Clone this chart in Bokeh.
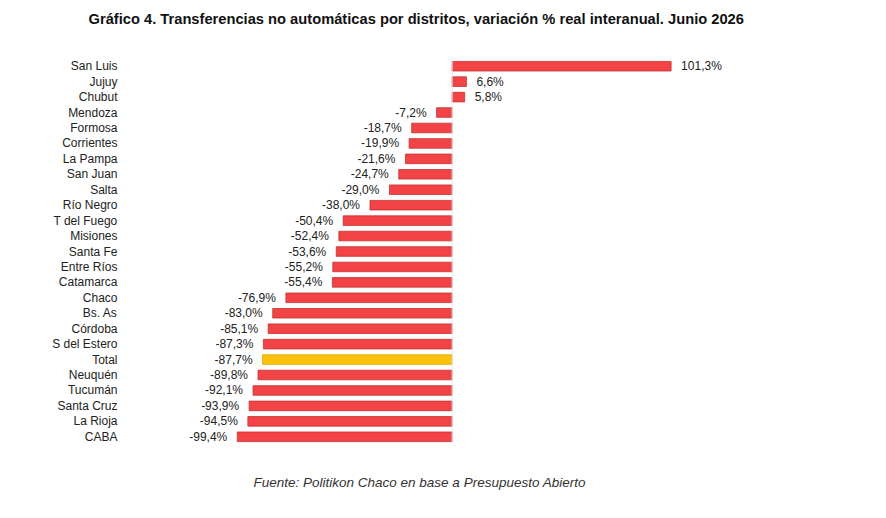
from bokeh.plotting import figure
from bokeh.models import ColumnDataSource, Span, Title
from bokeh.embed import file_html
from bokeh.resources import INLINE
from bokeh.core.properties import value

districts = ["San Luis", "Jujuy", "Chubut", "Mendoza", "Formosa", "Corrientes", "La Pampa",
             "San Juan", "Salta", "Río Negro", "T del Fuego", "Misiones", "Santa Fe",
             "Entre Ríos", "Catamarca", "Chaco", "Bs. As", "Córdoba", "S del Estero",
             "Total", "Neuquén", "Tucumán", "Santa Cruz", "La Rioja", "CABA"]
values = [101.3, 6.6, 5.8, -7.2, -18.7, -19.9, -21.6, -24.7, -29.0, -38.0, -50.4, -52.4,
          -53.6, -55.2, -55.4, -76.9, -83.0, -85.1, -87.3, -87.7, -89.8, -92.1, -93.9,
          -94.5, -99.4]
title_text = "Gráfico 4. Transferencias no automáticas por distritos, variación % real interanual. Junio 2026"
source_text = "Fuente: Politikon Chaco en base a Presupuesto Abierto"

RED = "#f24446"
RED_LINE = "#c83030"
GOLD = "#fcc20a"
GOLD_LINE = "#e0a800"
FONT = "Liberation Sans"

labels = [f"{v:.1f}".replace(".", ",") + "%" for v in values]
fills = [GOLD if d == "Total" else RED for d in districts]
lines = [GOLD_LINE if d == "Total" else RED_LINE for d in districts]

src = ColumnDataSource(dict(d=districts, v=values, lab=labels, fill=fills, line=lines))
pos = ColumnDataSource(dict(d=[d for d, v in zip(districts, values) if v >= 0],
                            v=[v for v in values if v >= 0],
                            lab=[l for l, v in zip(labels, values) if v >= 0]))
neg = ColumnDataSource(dict(d=[d for d, v in zip(districts, values) if v < 0],
                            v=[v for v in values if v < 0],
                            lab=[l for l, v in zip(labels, values) if v < 0]))

n = len(districts)
row = 15.45
frame_top = 65.5 - row / 2
frame_bottom = frame_top + n * row
p = figure(width=886, height=518, y_range=list(reversed(districts)),
           x_range=(-151.1, 151.9), output_backend="svg", toolbar_location=None,
           min_border_left=125, min_border_right=886 - 780,
           min_border_top=int(round(frame_top)), min_border_bottom=int(round(518 - frame_bottom)))
p.outline_line_color = None
p.grid.visible = False
p.xaxis.visible = False
p.yaxis.axis_line_color = None
p.yaxis.major_tick_line_color = None
p.yaxis.minor_tick_line_color = None
p.yaxis.major_tick_out = 0
p.yaxis.major_label_standoff = 8
p.yaxis.major_label_text_font = FONT
p.yaxis.major_label_text_font_size = "12px"
p.yaxis.major_label_text_color = "#222222"

p.add_layout(Span(location=0, dimension="height", line_color="#e6e6e6", line_width=1))

p.hbar(y="d", left=0, right="v", height=0.62, source=src, fill_color="fill",
       line_color="line", line_width=0.8)

p.text(x="v", y="d", text="lab", source=pos, x_offset=10, text_align="left",
       text_baseline="middle", text_font=value(FONT), text_font_size="12px",
       text_color="#222222")
p.text(x="v", y="d", text="lab", source=neg, x_offset=-10, text_align="right",
       text_baseline="middle", text_font=value(FONT), text_font_size="12px",
       text_color="#222222")

# empty spacer between the bars and the title (closest to the frame)
p.add_layout(Title(text=" ", text_font=FONT, text_font_size="10px", standoff=19), "above")
p.add_layout(Title(text=title_text, text_font=FONT, text_font_style="bold",
                   text_font_size="14.7px", align="left", offset=88 - 125, standoff=0,
                   text_color="#111111"), "above")
p.add_layout(Title(text=source_text, text_font=FONT, text_font_style="italic",
                   text_font_size="13.5px", align="left", offset=253 - 125, standoff=56,
                   text_color="#333333"), "below")

open("out.html", "w").write(file_html(p, INLINE))
